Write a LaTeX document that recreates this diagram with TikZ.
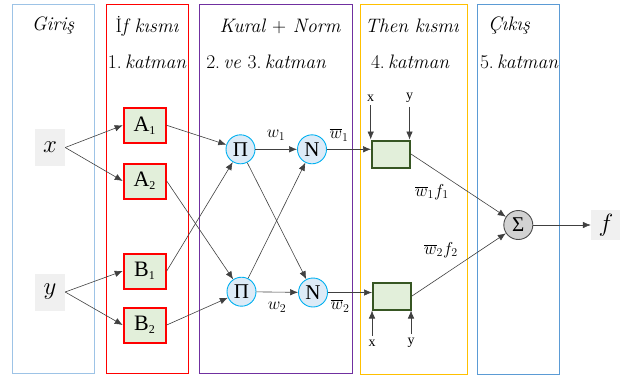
\documentclass[tikz,border=0pt]{standalone}
\usepackage{fontspec}
\newfontfamily\tms{Liberation Serif}
\usetikzlibrary{arrows.meta,calc}
\definecolor{lgreen}{HTML}{E2EFDA}
\definecolor{dgreen}{HTML}{375623}
\definecolor{lblue}{HTML}{DDEBF7}
\definecolor{cyanb}{HTML}{00B0F0}
\definecolor{bluea}{HTML}{9DC3E6}
\definecolor{blueb}{HTML}{5B9BD5}
\definecolor{purp}{HTML}{7030A0}
\definecolor{gold}{HTML}{FFC000}
\begin{document}
\begin{tikzpicture}[x=1pt,y=-1pt,
  frame/.style={line width=0.9pt},
  hdr/.style={font=\fontsize{19.5}{22}\selectfont\itshape, inner sep=0},
  inbox/.style={fill=gray!12, minimum width=30pt, minimum height=37pt, inner sep=0, font=\fontsize{24}{26}\selectfont},
  mf/.style={draw=red, line width=2pt, fill=lgreen, minimum width=42pt, minimum height=35pt, inner sep=0, font=\tms\fontsize{22}{24}\selectfont},
  prod/.style={circle, draw=cyanb, fill=lblue, line width=0.9pt, minimum size=29pt, inner sep=0, font=\tms\fontsize{21}{23}\selectfont},
  thenb/.style={draw=dgreen, line width=2pt, fill=lgreen, minimum width=38pt, minimum height=27pt, inner sep=0},
  sumn/.style={circle, draw=gray!60!black, fill=gray!35, line width=0.9pt, minimum size=29pt, inner sep=0, font=\tms\fontsize{21}{23}\selectfont},
  conn/.style={-{Latex[length=8pt,width=6.5pt]}, draw=black!75, line width=0.6pt},
  lbl/.style={font=\fontsize{17.5}{19}\selectfont, inner sep=0},
  xy/.style={font=\tms\fontsize{14}{15}\selectfont, inner sep=0}
]
\useasboundingbox (0,0) rectangle (620,376);
% frames
\draw[frame, bluea] (12.7,4.5) rectangle (94,373);
\draw[frame, red] (106.7,4.5) rectangle (188.3,373);
\draw[frame, purp] (199.7,4.5) rectangle (352.7,373);
\draw[frame, gold] (360,4.5) rectangle (467,374);
\draw[frame, blueb] (477.5,4.5) rectangle (559,374);
% headers
\node[hdr] (h1) at (53,26) {Giriş};
\node[hdr] (h2) at (147,26) {{\upshape İ}f kısmı};
\node[hdr] (h2b) at (147,62) {{\upshape 1.}\,katman};
\node[hdr] (h3) at (280,26) {Kural {\upshape +} Norm};
\node[hdr] (h3b) at (266,62) {{\upshape 2.}\,ve {\upshape 3.}\,katman};
\node[hdr] (h4) at (412,26) {Then kısmı};
\node[hdr] (h4b) at (410,62) {{\upshape 4.}\,katman};
\node[hdr] (h5) at (509,26) {Çıkış};
\node[hdr] (h5b) at (519,62) {{\upshape 5.}\,katman};
% inputs
\node[inbox] (x) at (50,147.5) {$x$};
\node[inbox] (y) at (50,292) {$y$};
% membership
\node[mf] (A1) at (144.7,125.3) {A\textsubscript{\fontsize{12}{12}\selectfont 1}};
\node[mf] (A2) at (144.7,181) {A\textsubscript{\fontsize{12}{12}\selectfont 2}};
\node[mf] (B1) at (144.7,271) {B\textsubscript{\fontsize{12}{12}\selectfont 1}};
\node[mf] (B2) at (144.7,325) {B\textsubscript{\fontsize{12}{12}\selectfont 2}};
% product / norm
\node[prod] (P1) at (240.5,149.3) {Π};
\node[prod] (N1) at (312,149.3) {N};
\node[prod] (P2) at (241.5,291.7) {Π};
\node[prod] (N2) at (313,292.5) {N};
% then
\node[thenb] (T1) at (391,154) {};
\node[thenb] (T2) at (392,296) {};
% sum and output
\node[sumn] (S) at (518.3,225) {Σ};
\node[inbox, minimum height=30pt] (f) at (606,225) {$f$};
% connectors
\draw[conn] (x.east) -- (A1.west);
\draw[conn] (x.east) -- (A2.west);
\draw[conn] (y.east) -- (B1.west);
\draw[conn] (y.east) -- (B2.west);
\draw[conn] (A1.east) -- (P1);
\draw[conn] (B1.east) -- (P1);
\draw[conn] (A2.east) -- (P2);
\draw[conn] (B2.east) -- (P2);
\draw[conn] (P1) -- (N1);
\draw[conn] (P1) -- (N2);
\draw[conn] (P2) -- (N1);
\draw[conn] (P2) -- (N2);
\draw[conn] (N1.east) -- (N1.east -| T1.west);
\draw[conn] (N2.east) -- (N2.east -| T2.west);
\draw[conn] (T1.east) -- (S);
\draw[conn] (T2.east) -- (S);
\draw[conn] (S.east) -- (f.west);
% weight labels
\node[lbl] (w1) at (276,135) {$w_1$};
\node[lbl] (wb1) at (339,135) {$\overline{w}_1$};
\node[lbl] (w2) at (277,307) {$w_2$};
\node[lbl] (wb2) at (340,306) {$\overline{w}_2$};
\node[lbl] (wf1) at (432,192) {$\overline{w}_1f_1$};
\node[lbl] (wf2) at (441,250) {$\overline{w}_2f_2$};
% x y inputs of then boxes
\node[xy] (tx1) at (370.7,98) {x};
\node[xy] (ty1) at (409.5,98) {y};
\node[xy] (tx2) at (372,343) {x};
\node[xy] (ty2) at (411,343) {y};
\draw[conn] (tx1.south) ++(0,4) coordinate (c1) -- (c1 |- T1.north);
\draw[conn] (ty1.south) ++(0,4) coordinate (c2) -- (c2 |- T1.north);
\draw[conn] (tx2.north) ++(0,-4) coordinate (c3) -- (c3 |- T2.south);
\draw[conn] (ty2.north) ++(0,-4) coordinate (c4) -- (c4 |- T2.south);
\end{tikzpicture}
\end{document}
